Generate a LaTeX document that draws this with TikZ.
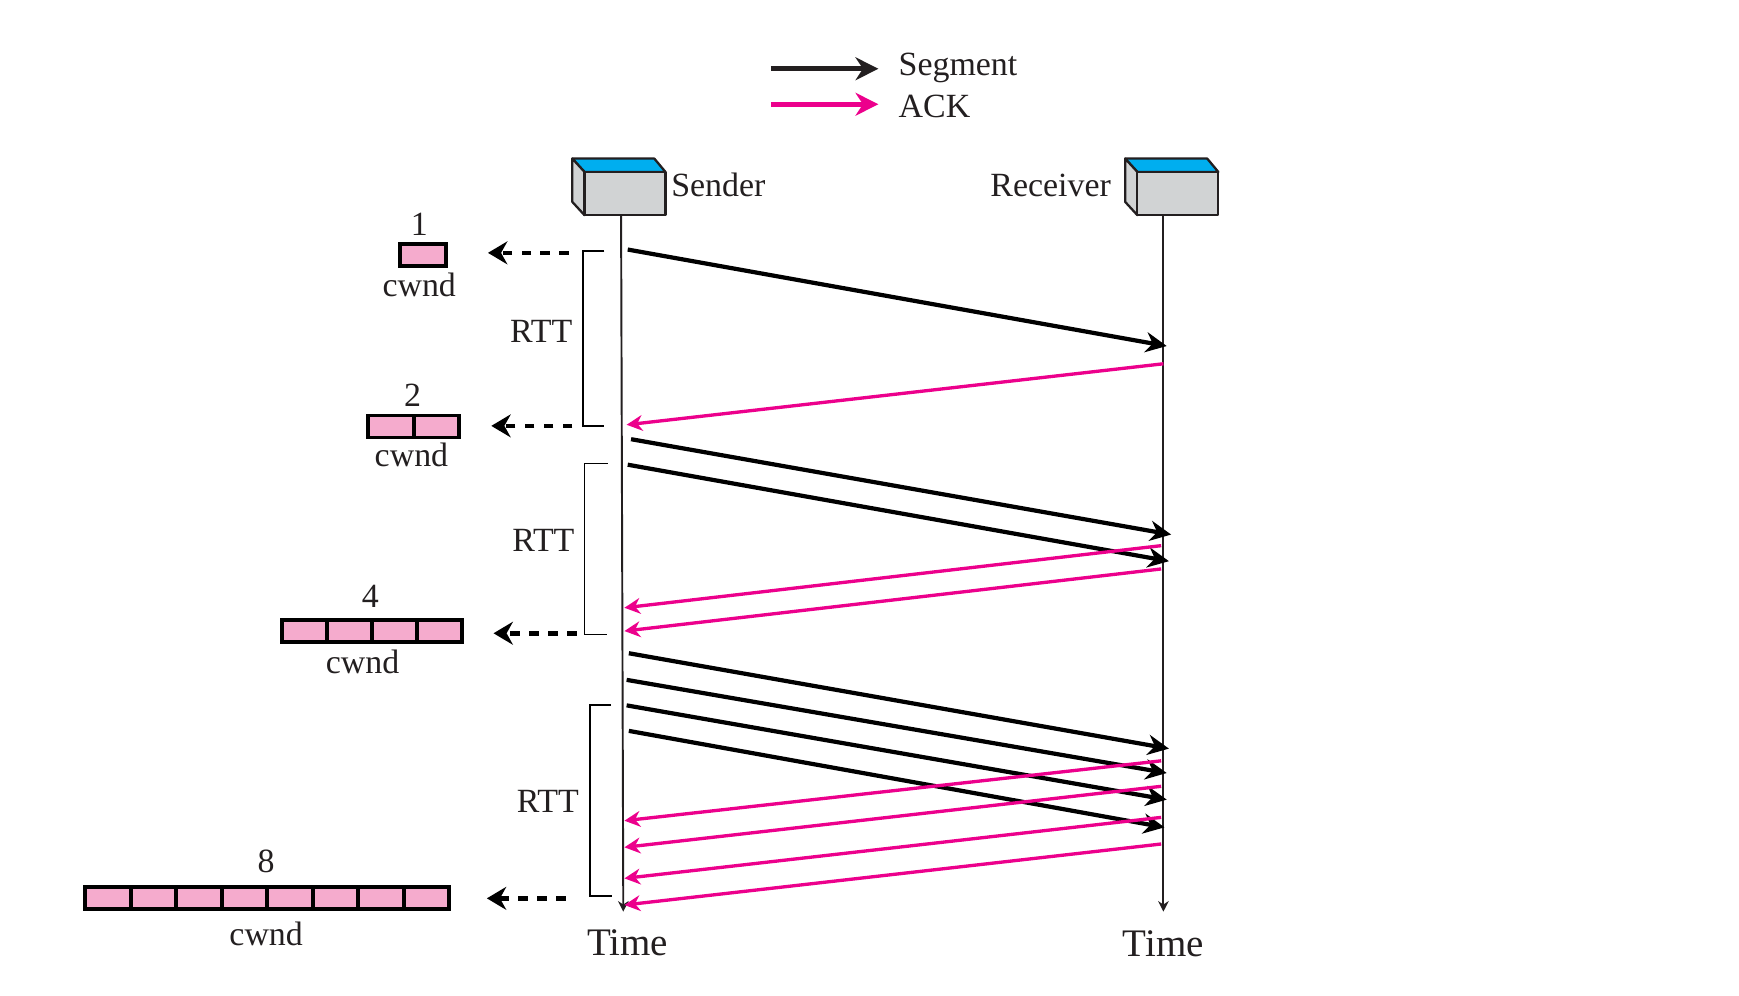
\documentclass[tikz,border=0pt]{standalone}
\usepackage{fontspec}
\setmainfont{Liberation Serif}
\usetikzlibrary{positioning,arrows.meta}
\definecolor{ackpink}{HTML}{EC008C}
\definecolor{cellpink}{HTML}{F5ABCD}
\definecolor{topblue}{HTML}{00AEEF}
\definecolor{boxgrey}{HTML}{D1D3D4}
\definecolor{inkblack}{HTML}{231F20}
\tikzset{
	cell/.style={draw=black,line width=2.2pt,fill=cellpink,minimum width=0.91cm,minimum height=0.44cm,outer sep=0pt,inner sep=0pt},
	label/.style={font=\fontsize{19.3}{21}\selectfont,text=inkblack,inner sep=0pt},
	timelabel/.style={font=\fontsize{22.2}{24}\selectfont,text=inkblack,inner sep=0pt},
	segment/.style={draw=black,line width=2.4pt,-{Stealth[length=12pt,width=11.5pt]}},
	ack/.style={draw=ackpink,line width=1.9pt,-{Stealth[length=9pt,width=9pt]}},
	lifeline/.style={draw=inkblack,line width=1.1pt,-{Stealth[length=6pt,width=6pt]}},
	rtt/.style={draw=black,line width=1pt},
	update/.style={draw=black,line width=2.6pt,dash pattern=on 5.4pt off 5.4pt,-{Stealth[length=11pt,width=13pt]}},
	face/.style={draw=inkblack,line width=1.3pt,line join=round},
}
\begin{document}
\begin{tikzpicture}[x=0.02218cm,y=-0.02218cm,node distance=0.91cm]
	\useasboundingbox (0,0) rectangle (1568,898);

	% legend
	\coordinate (ls) at (695,62);
	\coordinate (le) at (792,62);
	\coordinate (as) at (695,94);
	\coordinate (ae) at (792,94);
	\draw[segment,draw=inkblack,line width=2.6pt,-{Stealth[length=13pt,width=13pt]}] (ls) -- (le);
	\draw[ack,line width=2.6pt,-{Stealth[length=13pt,width=13pt]}] (as) -- (ae);
	\node[label,anchor=west] (lsegment) at (810,61) {Segment};
	\node[label,anchor=west] (lack) at (810,96) {ACK};

	% stations
	\foreach \name/\dx in {sender/0,receiver/498.5}{
		\begin{scope}[xshift=\dx*0.02218cm]
			\filldraw[face,fill=topblue] (516,143) -- (590,143) -- (600,155) -- (527,155) -- cycle;
			\filldraw[face,fill=boxgrey] (516,143) -- (527,155) -- (527,194) -- (516,182) -- cycle;
			\filldraw[face,fill=boxgrey] (527,155) rectangle (600,194);
		\end{scope}
	}
	\node[label,anchor=west] (sender) at (605,167) {Sender};
	\node[label,anchor=east] (receiver) at (1002,167) {Receiver};

	\coordinate (s0) at (560,194);
	\coordinate (s1) at (562,822);
	\coordinate (r0) at (1049,194);
	\coordinate (r1) at (1049,822);
	\draw[lifeline] (s0) -- (s1);
	\draw[lifeline] (r0) -- (r1);
	\node[timelabel] (tsend) at (566,850) {Time};
	\node[timelabel] (trecv) at (1049,851) {Time};

	% segments
	\foreach \xa/\ya/\xb/\yb in {566/225/1052/312,569/396/1056/482,566/419/1054/506,567/589/1054/675,565/613/1052/697,565/636/1052/721,567/659/1050/746}{
		\draw[segment] (\xa,\ya) -- (\xb,\yb);
	}
	% acks
	\foreach \ya/\yb in {492/548,513/569,686/740,709/764,737/792,761/816}{
		\draw[ack] (1047,\ya) -- (563,\yb);
	}
	\draw[ack] (1049,328) -- (565,383);

	% round trips
	\draw[rtt] (545,226) -- (526,226) -- (526,384) -- (545,384);
	\draw[rtt] (548,418) -- (527,418) -- (527,572) -- (547,572);
	\draw[rtt] (551,636) -- (532,636) -- (532,808) -- (552,808);
	\node[label] (rtt1) at (488,299) {RTT};
	\node[label] (rtt2) at (490,487) {RTT};
	\node[label] (rtt3) at (494,723) {RTT};

	% window 1
	\node[cell] (a1) at (381.5,230) {};
	\node[label] (na) at (378,202) {1};
	\node[label] (wa) at (378,257) {cwnd};
	\coordinate (da) at (513,228);
	\coordinate (ea) at (440,228);
	\draw[update] (da) -- (ea);

	% window 2
	\node[cell] (b1) at (352.5,384.5) {};
	\node[cell,right of=b1] (b2) {};
	\node[label] (nb) at (372,356) {2};
	\node[label] (wb) at (371,410) {cwnd};
	\coordinate (db) at (516,384);
	\coordinate (eb) at (443,384);
	\draw[update] (db) -- (eb);

	% window 4
	\node[cell] (c1) at (274.5,569) {};
	\foreach \i [remember=\i as \j (initially 1)] in {2,3,4}
		\node[cell,right of=c\j,node distance=0.9cm] (c\i) {};
	\node[label] (nc) at (334,538) {4};
	\node[label] (wc) at (327,597) {cwnd};
	\coordinate (dc) at (520,571);
	\coordinate (ec) at (445,571);
	\draw[update] (dc) -- (ec);

	% window 8
	\node[cell] (d1) at (97.5,810) {};
	\foreach \i [remember=\i as \j (initially 1)] in {2,...,8}
		\node[cell,right of=d\j] (d\i) {};
	\node[label] (nd) at (240,777) {8};
	\node[label] (wd) at (240,842) {cwnd};
	\coordinate (dd) at (510,810);
	\coordinate (ed) at (439,810);
	\draw[update] (dd) -- (ed);
\end{tikzpicture}
\end{document}
